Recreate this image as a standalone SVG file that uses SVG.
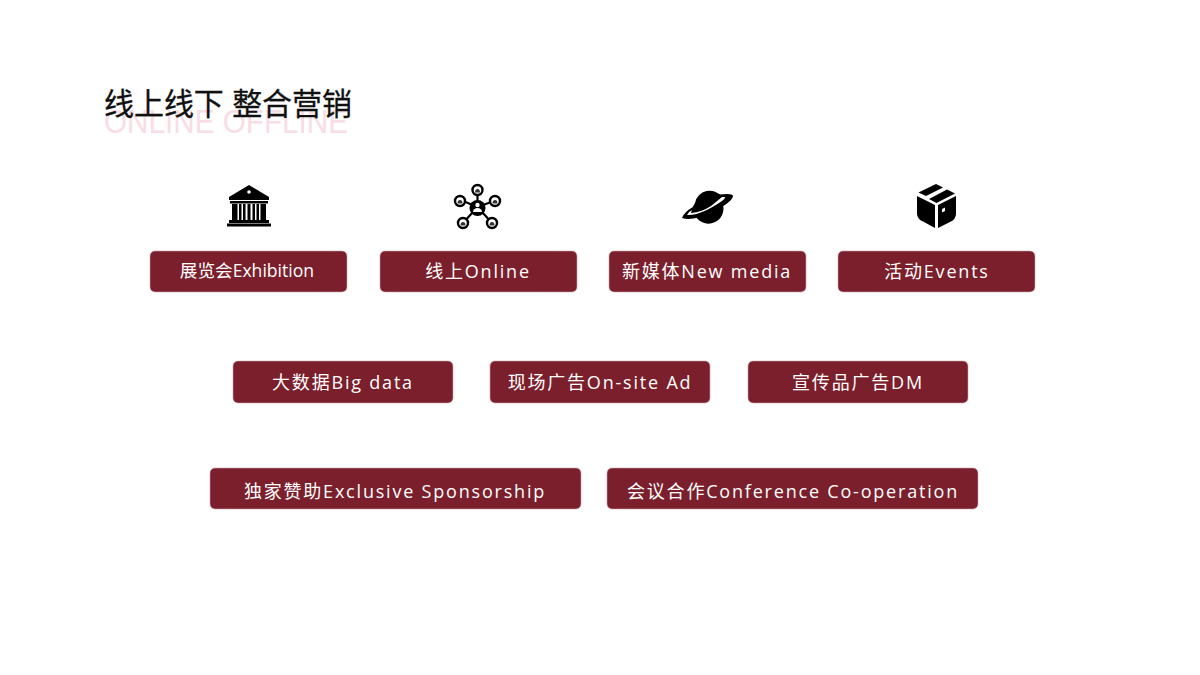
<svg xmlns="http://www.w3.org/2000/svg" width="1200" height="675" viewBox="0 0 1200 675">
<style>
.b{fill:#7b1f2c;stroke:#c9a3a8;stroke-width:.6}
.t{fill:#fff;font-family:"Open Sans","Noto Sans CJK SC",sans-serif;font-size:18px;text-anchor:middle;letter-spacing:1.8px}
.h{font-family:"Liberation Sans","Noto Sans CJK SC",sans-serif}
</style>
<rect width="1200" height="675" fill="#fff"/>
<g id="title">
<text class="h" x="104" y="133" font-size="33" fill="#f8dde5" textLength="244" lengthAdjust="spacingAndGlyphs">ONLINE OFFLINE</text>
<text class="h" x="104" y="115" font-size="31" fill="#111" stroke="#111" stroke-width=".3" textLength="248" lengthAdjust="spacingAndGlyphs">线上线下 整合营销</text>
</g>
<g id="icon-exhibition" fill="#000">
<path d="M249 185L269 197V200H229V197Z"/>
<rect x="230" y="201" width="38" height="2.500"/>
<rect x="232" y="204" width="5.500" height="16"/><rect x="239" y="204" width="2.500" height="16"/><rect x="243" y="204" width="2.500" height="16"/><rect x="247.500" y="204" width="3" height="16"/><rect x="252.500" y="204" width="2.500" height="16"/><rect x="256.500" y="204" width="2.500" height="16"/><rect x="260.500" y="204" width="5.500" height="16"/>
<rect x="229" y="220" width="40" height="3"/><rect x="227" y="223.500" width="44" height="3"/>
<circle cx="249" cy="192" r="1.800" fill="#fff"/>
</g>
<g id="icon-online">
<g stroke="#000" stroke-width="2.200"><path d="M477.500 207V192M477.500 207L463 201M477.500 207L494 201M477.500 207L463 223M477.500 207L492 223"/></g>
<g fill="#fff" stroke="#000" stroke-width="2.400"><circle cx="477.500" cy="190" r="5"/><circle cx="460" cy="201" r="5"/><circle cx="495" cy="201" r="5"/><circle cx="463" cy="223" r="5"/><circle cx="492" cy="223" r="5"/></g>
<circle cx="477.500" cy="208" r="8" fill="#000"/>
<circle cx="477.500" cy="205" r="2.200" fill="#fff"/><path d="M473 212a4.500 4 0 0 1 9 0Z" fill="#fff"/>
<g fill="#333"><path d="M475 192.500a2.500 3.500 0 0 1 5 0Z"/><path d="M457.500 203.500a2.500 3.500 0 0 1 5 0Z"/><path d="M492.500 203.500a2.500 3.500 0 0 1 5 0Z"/><path d="M460.500 225.500a2.500 3.500 0 0 1 5 0Z"/><path d="M489.500 225.500a2.500 3.500 0 0 1 5 0Z"/></g>
</g>
<g id="icon-newmedia" fill="#000">
<path d="M695 203A15 15 0 0 1 722 197L711 206Q702 212 691 213Q692 207 695 203Z"/>
<path d="M696 217A15 15 0 0 0 723 205Q712 214 696 217Z"/>
<path d="M682 218Q684 212 693 207L692 210Q688 212 687 215Q700 216 722 201Q727 197 724 197L716 197L719 194.500Q733 193 733 196Q733 201 715 211Q692 222 682 218Z"/>
</g>
<g id="icon-events" fill="#000">
<path d="M936 184L943 187.500L926 196L918.500 192.500Z"/>
<path d="M947 189.500L955 193.500L936.500 203L929 199Z"/>
<path d="M917 196L935 205V228L924 222Q917 219 917 214Z"/>
<path d="M956 196V214Q956 219 950 222L938 228V205Z"/>
<path d="M942 209L945 207.500V211L942 212.500Z" fill="#fff"/>
</g>
<g id="n1"><rect class="b" x="150" y="251" width="197" height="41" rx="5"/><text class="t" x="247" y="277" style="letter-spacing:0;font-size:17.600px">展览会Exhibition</text></g>
<g id="n2"><rect class="b" x="380" y="251" width="197" height="41" rx="5"/><text class="t" x="478" y="278">线上Online</text></g>
<g id="n3"><rect class="b" x="609" y="251" width="197" height="41" rx="5"/><text class="t" x="707" y="278">新媒体New media</text></g>
<g id="n4"><rect class="b" x="838" y="251" width="197" height="41" rx="5"/><text class="t" x="937" y="278">活动Events</text></g>
<g id="n5"><rect class="b" x="233" y="361" width="220" height="42" rx="5"/><text class="t" x="343" y="389">大数据Big data</text></g>
<g id="n6"><rect class="b" x="490" y="361" width="220" height="42" rx="5"/><text class="t" x="600" y="389">现场广告On-site Ad</text></g>
<g id="n7"><rect class="b" x="748" y="361" width="220" height="42" rx="5"/><text class="t" x="858" y="389">宣传品广告DM</text></g>
<g id="n8"><rect class="b" x="210" y="468" width="371" height="41" rx="5"/><text class="t" x="395" y="498">独家赞助Exclusive Sponsorship</text></g>
<g id="n9"><rect class="b" x="607" y="468" width="371" height="41" rx="5"/><text class="t" x="793" y="498">会议合作Conference Co-operation</text></g>
<g id="connectors"/>
</svg>
